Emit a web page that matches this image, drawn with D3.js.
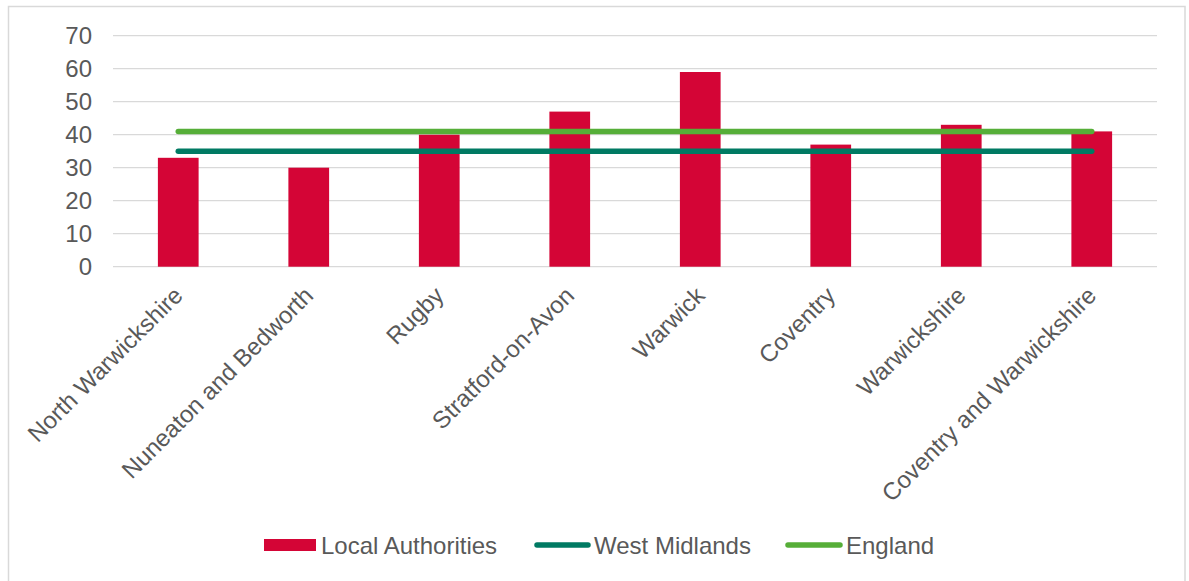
<!DOCTYPE html>
<html><head><meta charset="utf-8">
<script src="https://cdn.jsdelivr.net/npm/d3@7"></script>
<style>body{margin:0;background:#fff}svg{display:block}text{font-family:"Liberation Sans",Arial,sans-serif;fill:#595959}</style>
</head><body><svg id="c" width="1189" height="581"></svg>
<script>
const categories = ["North Warwickshire","Nuneaton and Bedworth","Rugby","Stratford-on-Avon","Warwick","Coventry","Warwickshire","Coventry and Warwickshire"];
const localAuthorities = [33,30,40,47,59,37,43,41];
const westMidlands = [35,35,35,35,35,35,35,35];
const england = [41,41,41,41,41,41,41,41];
const yTicks = [0,10,20,30,40,50,60,70];
const seriesNames = ["Local Authorities","West Midlands","England"];
const colors = {bar:"#D40536", wm:"#007A63", eng:"#56AE38", grid:"#D9D9D9"};

const svg = d3.select("#c");
svg.append("rect").attr("x",8.5).attr("y",6.5).attr("width",1176.5).attr("height",600)
  .attr("fill","#fff").attr("stroke","#D9D9D9").attr("stroke-width",1.5);

const L=113, R=1157, T=35.7, B=266.7, fs=24;
const x = d3.scaleBand().domain(categories).range([L,R]).paddingInner(0.688).paddingOuter(0.344);
const xc = d3.scalePoint().domain(categories).range([L,R]).padding(0.5);
const y = d3.scaleLinear().domain([0,70]).range([B,T]);

// grid
svg.append("g").selectAll("line").data(yTicks).join("line")
  .attr("x1",L).attr("x2",R).attr("y1",d=>y(d)).attr("y2",d=>y(d))
  .attr("stroke",colors.grid).attr("stroke-width",1.3);

// y labels
svg.append("g").selectAll("text").data(yTicks).join("text")
  .attr("x",92).attr("y",d=>y(d)).attr("dy","0.36em").attr("text-anchor","end")
  .style("font-size",fs+"px").text(d=>d);

// bars
svg.append("g").selectAll("rect").data(categories).join("rect")
  .attr("x",d=>x(d)).attr("width",x.bandwidth())
  .attr("y",(d,i)=>y(localAuthorities[i])).attr("height",(d,i)=>B-y(localAuthorities[i]))
  .attr("fill",colors.bar);

// lines
const line = d3.line().x((d,i)=>xc(categories[i])).y(d=>y(d));
svg.append("path").datum(westMidlands).attr("d",line).attr("fill","none")
  .attr("stroke",colors.wm).attr("stroke-width",5.5).attr("stroke-linecap","round");
svg.append("path").datum(england).attr("d",line).attr("fill","none")
  .attr("stroke",colors.eng).attr("stroke-width",5.5).attr("stroke-linecap","round");

// x labels
svg.append("g").selectAll("text").data(categories).join("text")
  .attr("transform",d=>`translate(${xc(d)+6},${297}) rotate(-45)`)
  .attr("text-anchor","end").style("font-size",fs+"px").text(d=>d);

// legend
const ly = 545;
const lg = svg.append("g");
lg.append("rect").attr("x",264).attr("y",539).attr("width",52).attr("height",12).attr("fill",colors.bar);
lg.append("text").attr("x",321).attr("y",ly).attr("dy","0.36em").style("font-size",fs+"px").text(seriesNames[0]);
lg.append("line").attr("x1",537).attr("x2",588).attr("y1",ly).attr("y2",ly)
  .attr("stroke",colors.wm).attr("stroke-width",5.5).attr("stroke-linecap","round");
lg.append("text").attr("x",594).attr("y",ly).attr("dy","0.36em").style("font-size",fs+"px").text(seriesNames[1]);
lg.append("line").attr("x1",788).attr("x2",840).attr("y1",ly).attr("y2",ly)
  .attr("stroke",colors.eng).attr("stroke-width",5.5).attr("stroke-linecap","round");
lg.append("text").attr("x",846).attr("y",ly).attr("dy","0.36em").style("font-size",fs+"px").text(seriesNames[2]);
</script></body></html>
